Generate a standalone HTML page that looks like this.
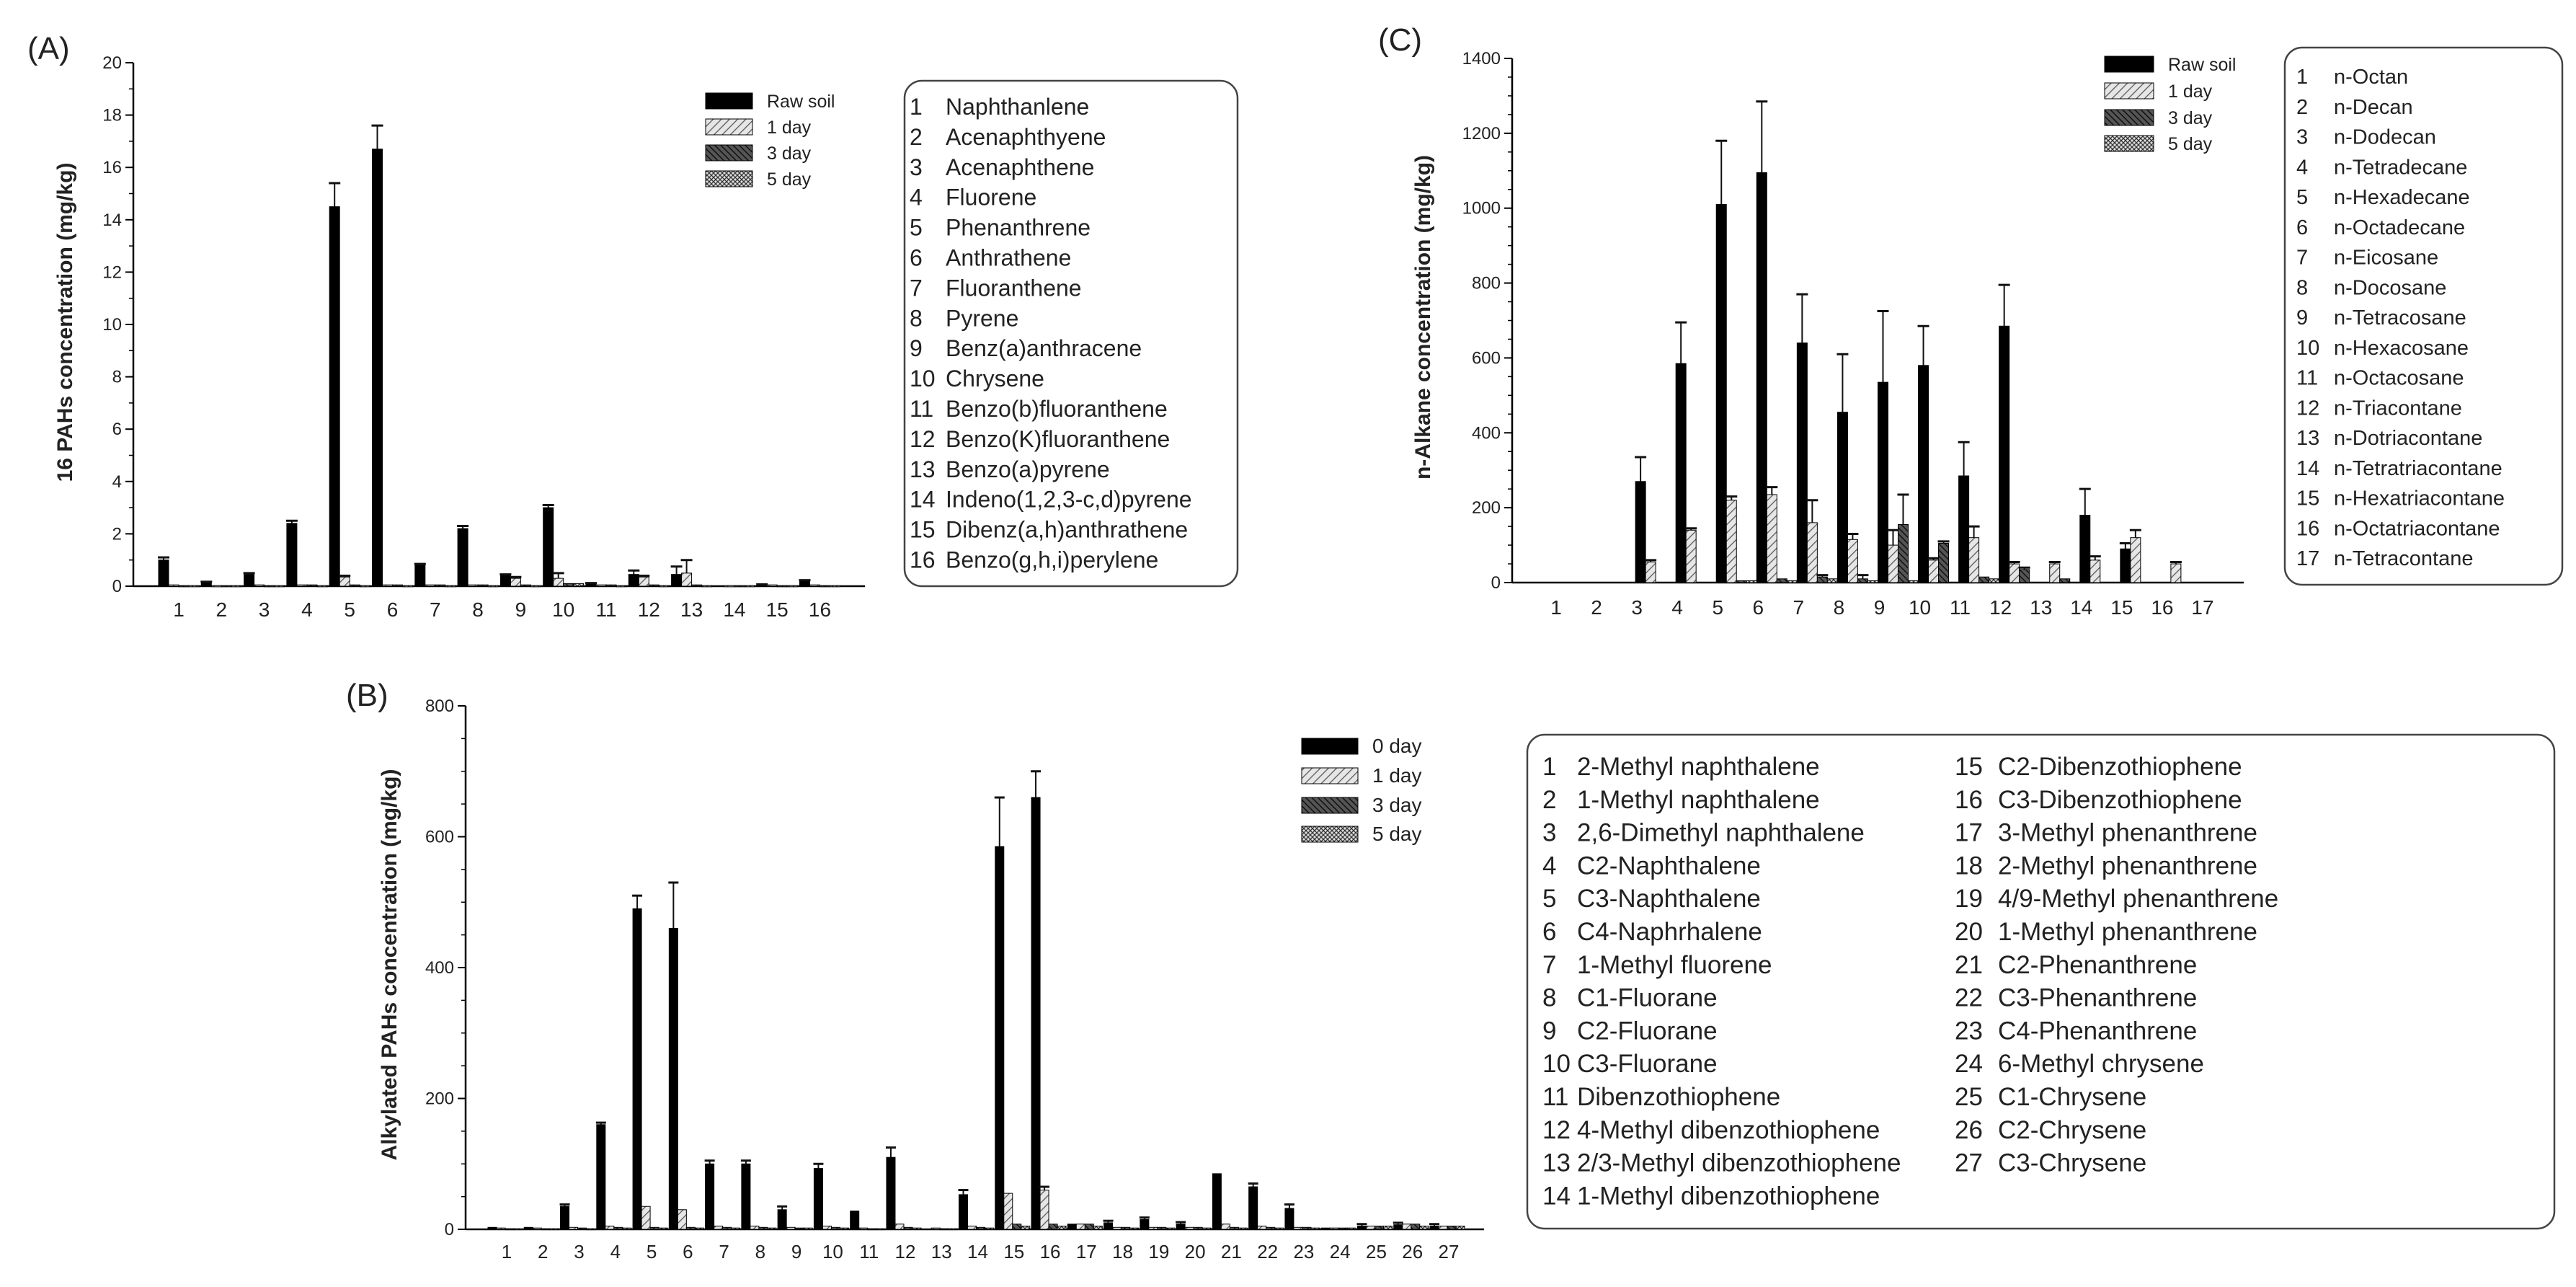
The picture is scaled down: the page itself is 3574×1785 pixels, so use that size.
<!DOCTYPE html>
<html><head><meta charset="utf-8"><style>
html,body{margin:0;padding:0;background:#fff;}
svg{display:block;font-family:"Liberation Sans",Arial,sans-serif;}
</style></head><body>
<svg id="fig" width="3574" height="1785" viewBox="0 0 3574 1785" xmlns="http://www.w3.org/2000/svg">
<defs>
<pattern id="p1" width="8" height="8" patternUnits="userSpaceOnUse" patternTransform="rotate(45)"><rect width="8" height="8" fill="#e6e6e6"/><line x1="0" y1="0" x2="0" y2="8" stroke="#555" stroke-width="2.5"/></pattern>
<pattern id="p3" width="6" height="6" patternUnits="userSpaceOnUse" patternTransform="rotate(-45)"><rect width="6" height="6" fill="#555"/><line x1="0" y1="0" x2="0" y2="6" stroke="#111" stroke-width="3"/></pattern>
<pattern id="p5" width="6" height="6" patternUnits="userSpaceOnUse"><rect width="6" height="6" fill="#ddd"/><path d="M0 0L6 6M6 0L0 6" stroke="#333" stroke-width="1.3"/></pattern>
</defs>
<g id="root"></g>
</svg>
<script>
// ---------- Panel A data (16 PAHs, mg/kg) ----------
const catsA = ["1","2","3","4","5","6","7","8","9","10","11","12","13","14","15","16"];
const rawA  = [1.0,0.15,0.45,2.4,14.5,16.7,0.8,2.2,0.4,3.0,0.1,0.45,0.45,0.0,0.05,0.2];
const errA  = [0.1,0.02,0.05,0.1,0.9,0.9,0.05,0.1,0.05,0.1,0.02,0.15,0.3,0,0.02,0.03];
const d1A   = [0.05,0.02,0.05,0.05,0.35,0.05,0.05,0.05,0.3,0.3,0.05,0.35,0.5,0.02,0.05,0.05];
const e1A   = [0,0,0,0,0.05,0,0,0,0.05,0.2,0,0.05,0.5,0,0,0];
const d3A   = [0.02,0.02,0.02,0.05,0.05,0.05,0.05,0.05,0.05,0.1,0.05,0.05,0.05,0.02,0.02,0.02];
const d5A   = [0.02,0.02,0.02,0.02,0.02,0.02,0.02,0.02,0.02,0.1,0.02,0.02,0.02,0.02,0.02,0.02];
const yTicksA = [0,2,4,6,8,10,12,14,16,18,20];
const legendA = ["Raw soil","1 day","3 day","5 day"];
const namesA = ["Naphthanlene","Acenaphthyene","Acenaphthene","Fluorene","Phenanthrene","Anthrathene","Fluoranthene","Pyrene","Benz(a)anthracene","Chrysene","Benzo(b)fluoranthene","Benzo(K)fluoranthene","Benzo(a)pyrene","Indeno(1,2,3-c,d)pyrene","Dibenz(a,h)anthrathene","Benzo(g,h,i)perylene"];

// ---------- Panel C data (n-alkanes, mg/kg) ----------
const catsC = ["1","2","3","4","5","6","7","8","9","10","11","12","13","14","15","16","17"];
const rawC  = [0,0,270,585,1010,1095,640,455,535,580,285,685,0,180,90,0,0];
const errC  = [0,0,65,110,170,190,130,155,190,105,90,110,0,70,15,0,0];
const d1C   = [0,0,55,140,220,235,160,115,100,60,120,50,50,60,120,50,0];
const e1C   = [0,0,5,5,10,20,60,15,40,5,30,5,5,10,20,5,0];
const d3C   = [0,0,0,0,5,10,15,10,155,105,15,35,10,0,0,0,0];
const e3C   = [0,0,0,0,0,0,5,10,80,5,0,5,0,0,0,0,0];
const d5C   = [0,0,0,0,5,5,10,5,5,0,10,0,0,0,0,0,0];
const yTicksC = [0,200,400,600,800,1000,1200,1400];
const legendC = ["Raw soil","1 day","3 day","5 day"];
const namesC = ["n-Octan","n-Decan","n-Dodecan","n-Tetradecane","n-Hexadecane","n-Octadecane","n-Eicosane","n-Docosane","n-Tetracosane","n-Hexacosane","n-Octacosane","n-Triacontane","n-Dotriacontane","n-Tetratriacontane","n-Hexatriacontane","n-Octatriacontane","n-Tetracontane"];

// ---------- Panel B data (alkylated PAHs, mg/kg) ----------
const catsB = ["1","2","3","4","5","6","7","8","9","10","11","12","13","14","15","16","17","18","19","20","21","22","23","24","25","26","27"];
const rawB  = [3,3,35,160,490,460,100,100,30,93,28,110,0,53,585,660,8,10,15,8,85,65,32,2,5,7,5];
const errB  = [0,0,3,3,20,70,5,5,5,7,0,15,0,7,75,40,0,3,3,3,0,5,6,0,3,3,3];
const d1B   = [2,2,3,5,35,30,5,5,3,5,2,8,2,5,55,60,8,3,3,3,8,5,3,2,5,8,5];
const e1B   = [0,0,0,0,0,0,0,0,0,0,0,0,0,0,0,5,0,0,0,0,0,0,0,0,0,0,0];
const d3B   = [1,1,2,3,3,3,3,3,2,3,1,3,1,3,8,8,8,3,3,3,3,3,3,2,5,8,5];
const d5B   = [1,1,1,2,2,2,2,2,2,2,1,2,1,2,5,5,5,2,2,2,2,2,2,2,5,5,5];
const yTicksB = [0,200,400,600,800];
const legendB = ["0 day","1 day","3 day","5 day"];
const namesB = ["2-Methyl naphthalene","1-Methyl naphthalene","2,6-Dimethyl naphthalene","C2-Naphthalene","C3-Naphthalene","C4-Naphrhalene","1-Methyl fluorene","C1-Fluorane","C2-Fluorane","C3-Fluorane","Dibenzothiophene","4-Methyl dibenzothiophene","2/3-Methyl dibenzothiophene","1-Methyl dibenzothiophene","C2-Dibenzothiophene","C3-Dibenzothiophene","3-Methyl phenanthrene","2-Methyl phenanthrene","4/9-Methyl phenanthrene","1-Methyl phenanthrene","C2-Phenanthrene","C3-Phenanthrene","C4-Phenanthrene","6-Methyl chrysene","C1-Chrysene","C2-Chrysene","C3-Chrysene"];

const NS = "http://www.w3.org/2000/svg";
const root = document.getElementById("root");
function mk(tag, attrs, parent, txt){
  const e = document.createElementNS(NS, tag);
  for (const k in attrs) e.setAttribute(k, attrs[k]);
  if (txt !== undefined) e.textContent = txt;
  (parent || root).appendChild(e);
  return e;
}
const fills = ["#000","url(#p1)","url(#p3)","url(#p5)"];

function panel(cfg){
  const g = mk("g", {});
  
  
  const yS = v => cfg.y0 - (v / cfg.ymax) * (cfg.y0 - cfg.ytop);
  const xS = i => cfg.tick1 + i * cfg.sp;
  const ya = mk("line", {x1:cfg.ox, y1:cfg.ytop, x2:cfg.ox, y2:cfg.y0, stroke:"#000", "stroke-width":2.5}, g);
  
  
  const xa = mk("line", {x1:cfg.ox, y1:cfg.y0, x2:cfg.xEnd, y2:cfg.y0, stroke:"#000", "stroke-width":2.5}, g);
  
  
  for (let v = 0; v <= cfg.ymax + 1e-9; v += cfg.minor){
    mk("line", {x1:cfg.ox-6, y1:yS(v), x2:cfg.ox, y2:yS(v), stroke:"#000", "stroke-width":1.5}, g);
  }
  cfg.ticks.forEach(v => {
    mk("line", {x1:cfg.ox-11, y1:yS(v), x2:cfg.ox, y2:yS(v), stroke:"#000", "stroke-width":2}, g);
    const t = mk("text", {x:cfg.ox-16, y:yS(v)+8, "text-anchor":"end", "font-size":cfg.tf, fill:"#222"}, g, String(v));
    
    
  });
  cfg.cats.forEach((c, i) => {
    const t = mk("text", {x:xS(i), y:cfg.xly, "text-anchor":"middle", "font-size":cfg.xf, fill:"#222"}, g, c);
    
    
  });
  cfg.series.forEach((s, si) => {
    s.vals.forEach((v, i) => {
      const x = xS(i) + cfg.off + si * cfg.bw;
      const top = yS(v);
      if (v > 0){
        const r = mk("rect", {x:x, y:top, width:cfg.bw, height:Math.max(cfg.y0 - top, 1.5), fill:fills[si], stroke:"#000", "stroke-width":1}, g);
        
        
      }
      const e = s.err ? s.err[i] : 0;
      if (e > 0){
        const ye = yS(v + e), cx = x + cfg.bw/2;
        const l = mk("line", {x1:cx, y1:top, x2:cx, y2:ye, stroke:"#111", "stroke-width":2}, g);
        
        
        mk("line", {x1:cx-cfg.bw/2-1, y1:ye, x2:cx+cfg.bw/2+1, y2:ye, stroke:"#111", "stroke-width":3}, g);
      }
    });
  });
  const yt = mk("text", {x:cfg.ytx, y:cfg.yty, "text-anchor":"middle", "font-size":30, "font-weight":"bold", fill:"#222", transform:`rotate(-90 ${cfg.ytx} ${cfg.yty})`}, g, cfg.ytitle);
  
  
  const pl = mk("text", {x:cfg.lx, y:cfg.ly, "font-size":44, fill:"#222"}, g, cfg.letter);
  
  
  cfg.legend.forEach((n, i) => {
    const cy = cfg.lgY[i];
    const r = mk("rect", {x:cfg.lgX, y:cy-11, width:cfg.lgW, height:22, fill:fills[i], stroke:"#000", "stroke-width":1}, g);
    
    
    const t = mk("text", {x:cfg.lgX + cfg.lgW + 20, y:cy+9, "font-size":cfg.lgF, fill:"#222"}, g, n);
    
    
  });
}

panel({key:"a", cats:catsA, ox:185, y0:813, ytop:87, ymax:20, tick1:248, sp:59.3, bw:14, off:-28, xEnd:1200,
  minor:1, ticks:yTicksA, tf:24, xf:28, xly:855, ytx:100, yty:447, ytitle:"16 PAHs concentration (mg/kg)",
  letter:"(A)", lx:38, ly:82, legend:legendA, lgX:979, lgW:65, lgY:[140,176,212,248], lgF:25,
  series:[{name:"raw soil",vals:rawA,err:errA},{name:"1 day",vals:d1A,err:e1A},{name:"3 day",vals:d3A},{name:"5 day",vals:d5A}]});
panel({key:"c", cats:catsC, ox:2098, y0:808, ytop:81, ymax:1400, tick1:2159, sp:56.06, bw:14, off:-2, xEnd:3113,
  minor:50, ticks:yTicksC, tf:24, xf:28, xly:852, ytx:1984, yty:440, ytitle:"n-Alkane concentration (mg/kg)",
  letter:"(C)", lx:1912, ly:70, legend:legendC, lgX:2920, lgW:68, lgY:[89,126,163,199], lgF:25,
  series:[{name:"raw soil",vals:rawC,err:errC},{name:"1 day",vals:d1C,err:e1C},{name:"3 day",vals:d3C,err:e3C},{name:"5 day",vals:d5C}]});
panel({key:"b", cats:catsB, ox:646, y0:1705, ytop:979, ymax:800, tick1:703, sp:50.27, bw:12, off:-26, xEnd:2059,
  minor:50, ticks:yTicksB, tf:24, xf:26, xly:1745, ytx:550, yty:1338, ytitle:"Alkylated PAHs concentration (mg/kg)",
  letter:"(B)", lx:480, ly:979, legend:legendB, lgX:1806, lgW:78, lgY:[1035,1076,1117,1157], lgF:28,
  series:[{name:"0 day",vals:rawB,err:errB},{name:"1 day",vals:d1B,err:e1B},{name:"3 day",vals:d3B},{name:"5 day",vals:d5B}]});

function keyBox(key, x, y, w, h, items, cols){
  const g = mk("g", {});
  
  
  const r = mk("rect", {x:x, y:y, width:w, height:h, rx:24, ry:24, fill:"#fff", stroke:"#444", "stroke-width":2.5}, g);
  
  
  items.forEach((n, i) => {
    const c = cols.find(cc => i >= cc.from && i < cc.to);
    const yy = c.y0 + (i - c.from) * c.dy;
    const t1 = mk("text", {x:c.nx, y:yy, "font-size":c.f, fill:"#222"}, g, String(i+1));
    
    
    const t2 = mk("text", {x:c.tx, y:yy, "font-size":c.f, fill:"#222"}, g, n);
    
    
  });
}
keyBox("a", 1255, 112, 462, 701, namesA, [{from:0,to:16,y0:159,dy:41.9,nx:1262,tx:1312,f:32}]);
keyBox("c", 3170, 66, 385, 745, namesC, [{from:0,to:17,y0:116,dy:41.75,nx:3186,tx:3238,f:29}]);
keyBox("b", 2119, 1019, 1425, 685, namesB, [
  {from:0,to:14,y0:1075,dy:45.8,nx:2140,tx:2188,f:35},
  {from:14,to:27,y0:1075,dy:45.8,nx:2712,tx:2772,f:35}]);
</script>
</body></html>
